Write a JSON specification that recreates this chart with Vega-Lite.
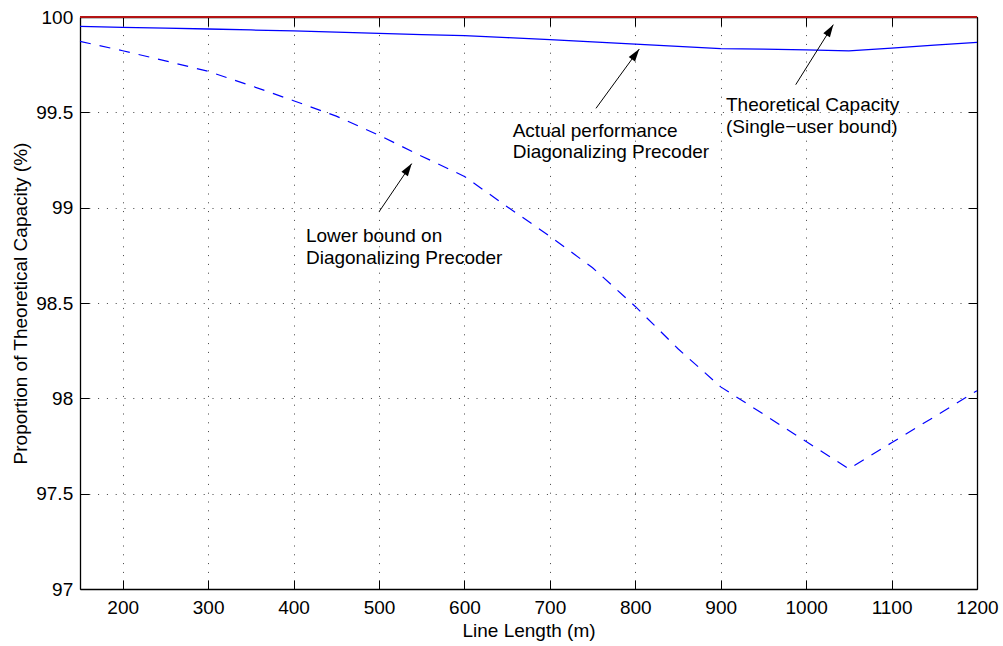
{
  "$schema": "https://vega.github.io/schema/vega-lite/v6.json",
  "width": 897,
  "height": 572,
  "autosize": {"type": "none"},
  "padding": {"left": 80, "top": 17, "right": 26, "bottom": 57},
  "background": "white",
  "config": {
    "font": "Liberation Sans",
    "view": {"stroke": null},
    "axis": {
      "labelFont": "Liberation Sans",
      "titleFont": "Liberation Sans",
      "labelFontSize": 19,
      "titleFontSize": 19,
      "labelColor": "#000",
      "titleColor": "#000",
      "titleFontWeight": "normal",
      "domainColor": "#000",
      "domainWidth": 1.3,
      "tickColor": "#000",
      "tickWidth": 1,
      "tickSize": -9,
      "labelFlush": false,
      "labelOverlap": false,
      "labelBound": false,
      "gridColor": "#000",
      "gridDash": [1, 7.8],
      "gridOpacity": 0.75,
      "gridWidth": 1
    }
  },
  "datasets": {
    "curves": [
      {"length": 150, "actual": 99.951, "lower": 99.872, "capacity": 100},
      {"length": 200, "actual": 99.946, "lower": 99.823, "capacity": 100},
      {"length": 250, "actual": 99.942, "lower": 99.77, "capacity": 100},
      {"length": 300, "actual": 99.937, "lower": 99.715, "capacity": 100},
      {"length": 350, "actual": 99.932, "lower": 99.64, "capacity": 100},
      {"length": 400, "actual": 99.927, "lower": 99.561, "capacity": 100},
      {"length": 450, "actual": 99.921, "lower": 99.48, "capacity": 100},
      {"length": 500, "actual": 99.914, "lower": 99.38, "capacity": 100},
      {"length": 550, "actual": 99.908, "lower": 99.27, "capacity": 100},
      {"length": 600, "actual": 99.902, "lower": 99.164, "capacity": 100},
      {"length": 650, "actual": 99.892, "lower": 99.005, "capacity": 100},
      {"length": 700, "actual": 99.881, "lower": 98.85, "capacity": 100},
      {"length": 750, "actual": 99.87, "lower": 98.685, "capacity": 100},
      {"length": 800, "actual": 99.858, "lower": 98.482, "capacity": 100},
      {"length": 850, "actual": 99.846, "lower": 98.26, "capacity": 100},
      {"length": 900, "actual": 99.834, "lower": 98.06, "capacity": 100},
      {"length": 950, "actual": 99.831, "lower": 97.917, "capacity": 100},
      {"length": 1000, "actual": 99.828, "lower": 97.773, "capacity": 100},
      {"length": 1050, "actual": 99.822, "lower": 97.63, "capacity": 100},
      {"length": 1100, "actual": 99.837, "lower": 97.767, "capacity": 100},
      {"length": 1150, "actual": 99.852, "lower": 97.903, "capacity": 100},
      {"length": 1200, "actual": 99.867, "lower": 98.04, "capacity": 100}
    ],
    "notes": [
      {"id": 1, "label": "Lower bound on\nDiagonalizing Precoder", "tx": 414.5, "ty": 98.818, "x": 500.3, "y": 98.98, "x2": 538.3, "y2": 99.231},
      {"id": 2, "label": "Actual performance\nDiagonalizing Precoder", "tx": 656.5, "ty": 99.371, "x": 754, "y": 99.521, "x2": 804.7, "y2": 99.832},
      {"id": 3, "label": "Theoretical Capacity\n(Single\u2212user bound)", "tx": 906.2, "ty": 99.505, "x": 987.8, "y": 99.645, "x2": 1031.8, "y2": 99.96}
    ]
  },
  "resolve": {"axis": {"x": "independent", "y": "independent"}},
  "layer": [
    {
      "data": {"name": "curves"},
      "mark": {"type": "line", "color": "#0000ff", "strokeWidth": 1.2, "strokeDash": [11, 9]},
      "encoding": {
        "x": {"field": "length", "type": "quantitative", "scale": {"domain": [150, 1200], "nice": false, "zero": false},
          "axis": {"orient": "bottom", "values": [200, 300, 400, 500, 600, 700, 800, 900, 1000, 1100, 1200], "format": "d", "grid": true, "labelPadding": 18, "title": "Line Length (m)", "titleX": 448.5, "titleY": 47.4, "titleBaseline": "alphabetic", "titleAlign": "center"}},
        "y": {"field": "lower", "type": "quantitative", "scale": {"domain": [97, 100], "nice": false, "zero": false},
          "axis": {"orient": "left", "values": [97, 97.5, 98, 98.5, 99, 99.5, 100], "format": "~g", "grid": true, "labelPadding": 16.3, "title": "Proportion of Theoretical Capacity (%)", "titleX": -54, "titleY": 286, "titleBaseline": "alphabetic", "titleAlign": "center", "titleAngle": -90}}
      }
    },
    {
      "data": {"name": "curves"},
      "mark": {"type": "line", "color": "#0000ff", "strokeWidth": 1.3},
      "encoding": {
        "x": {"field": "length", "type": "quantitative", "scale": {"domain": [150, 1200], "nice": false, "zero": false},
          "axis": {"orient": "top", "values": [200, 300, 400, 500, 600, 700, 800, 900, 1000, 1100, 1200], "labels": false, "grid": false, "title": null}},
        "y": {"field": "actual", "type": "quantitative", "scale": {"domain": [97, 100], "nice": false, "zero": false},
          "axis": {"orient": "right", "values": [97, 97.5, 98, 98.5, 99, 99.5, 100], "labels": false, "grid": false, "title": null}}
      }
    },
    {
      "data": {"name": "curves"},
      "mark": {"type": "line", "color": "#b41414", "strokeWidth": 2},
      "encoding": {
        "x": {"field": "length", "type": "quantitative", "scale": {"domain": [150, 1200], "nice": false, "zero": false}, "axis": null},
        "y": {"field": "capacity", "type": "quantitative", "scale": {"domain": [97, 100], "nice": false, "zero": false}, "axis": null}
      }
    },
    {
      "data": {"name": "notes"},
      "mark": {"type": "rule", "color": "#000", "strokeWidth": 1},
      "encoding": {
        "x": {"field": "x", "type": "quantitative", "scale": {"domain": [150, 1200], "nice": false, "zero": false}, "axis": null},
        "y": {"field": "y", "type": "quantitative", "scale": {"domain": [97, 100], "nice": false, "zero": false}, "axis": null},
        "x2": {"field": "x2"},
        "y2": {"field": "y2"}
      }
    },
    {
      "data": {"name": "notes"},
      "transform": [{"filter": "datum.id == 1"}],
      "mark": {"type": "point", "shape": "M0,0L-0.65,2.1L0.65,2.1Z", "filled": true, "color": "#000", "opacity": 1, "size": 144, "strokeWidth": 0, "angle": 34.2},
      "encoding": {
        "x": {"field": "x2", "type": "quantitative", "scale": {"domain": [150, 1200], "nice": false, "zero": false}, "axis": null},
        "y": {"field": "y2", "type": "quantitative", "scale": {"domain": [97, 100], "nice": false, "zero": false}, "axis": null}
      }
    },
    {
      "data": {"name": "notes"},
      "transform": [{"filter": "datum.id == 2"}],
      "mark": {"type": "point", "shape": "M0,0L-0.65,2.1L0.65,2.1Z", "filled": true, "color": "#000", "opacity": 1, "size": 144, "strokeWidth": 0, "angle": 36.1},
      "encoding": {
        "x": {"field": "x2", "type": "quantitative", "scale": {"domain": [150, 1200], "nice": false, "zero": false}, "axis": null},
        "y": {"field": "y2", "type": "quantitative", "scale": {"domain": [97, 100], "nice": false, "zero": false}, "axis": null}
      }
    },
    {
      "data": {"name": "notes"},
      "transform": [{"filter": "datum.id == 3"}],
      "mark": {"type": "point", "shape": "M0,0L-0.65,2.1L0.65,2.1Z", "filled": true, "color": "#000", "opacity": 1, "size": 144, "strokeWidth": 0, "angle": 32.1},
      "encoding": {
        "x": {"field": "x2", "type": "quantitative", "scale": {"domain": [150, 1200], "nice": false, "zero": false}, "axis": null},
        "y": {"field": "y2", "type": "quantitative", "scale": {"domain": [97, 100], "nice": false, "zero": false}, "axis": null}
      }
    },
    {
      "data": {"name": "notes"},
      "mark": {"type": "text", "align": "left", "baseline": "alphabetic", "fontSize": 19, "font": "Liberation Sans", "lineBreak": "\n", "lineHeight": 21.5, "color": "#000"},
      "encoding": {
        "x": {"field": "tx", "type": "quantitative", "scale": {"domain": [150, 1200], "nice": false, "zero": false}, "axis": null},
        "y": {"field": "ty", "type": "quantitative", "scale": {"domain": [97, 100], "nice": false, "zero": false}, "axis": null},
        "text": {"field": "label", "type": "nominal"}
      }
    }
  ]
}
